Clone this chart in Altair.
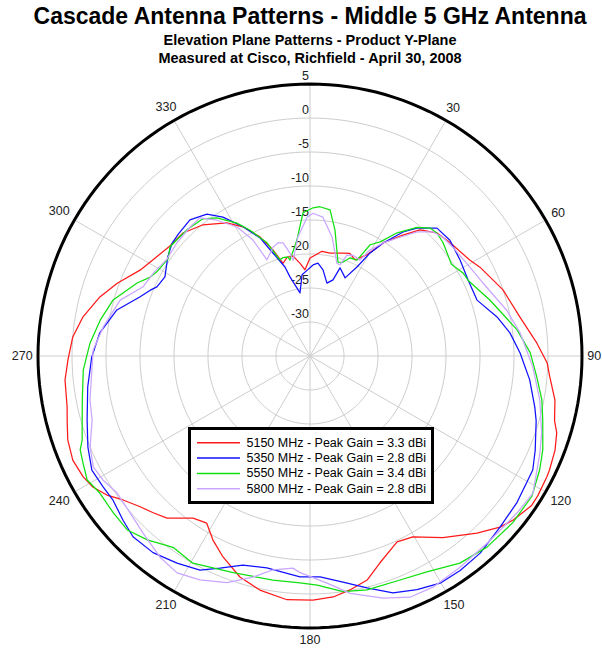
import altair as alt
import pandas as pd

# ---------------- data ----------------
series_names = [
    "5150 MHz - Peak Gain = 3.3 dBi",
    "5350 MHz - Peak Gain = 2.8 dBi",
    "5550 MHz - Peak Gain = 3.4 dBi",
    "5800 MHz - Peak Gain = 2.8 dBi",
]
series_colors = ["#ff1a1a", "#1010ff", "#10e010", "#c9a6ff"]

red_ang = [0, 6.5, 11, 17.8, 21.2, 25.1, 29.4, 32.9, 37.5, 41.1, 45.9, 51.1, 59, 62.4,
           71.1, 79.5, 86.7, 91.7, 95, 100.2, 104.8, 107.3, 111, 115.4, 117, 121.5, 124.1,
           128.9, 132, 136.7, 143.8, 150.4, 154.9, 161.3, 165.7, 170.3, 174.5, 179.3, 185.4,
           192.1, 197.6, 203.4, 207.8, 211.7, 215.8, 221.4, 225, 228.4, 232.4, 235.6, 238.9,
           242, 246.3, 250.9, 254.8, 258.1, 264.4, 269.1, 274.6, 279.7, 285.7, 290.7, 296.8,
           302, 308, 314.1, 320.8, 328, 332.6, 337.2, 340.8, 343.8, 346.9, 350.4, 353.9, 356.7]
red_db = [-20.6, -19.5, -19.6, -19.1, -18.8, -19.4, -17.9, -15.2, -12.6, -10.4, -9.0, -8.5, -7.6, -6.8,
          -5.0, -3.6, -1.6, -0.1, 0.4, 1.6, 2.2, 3.0, 3.6, 4.0, 4.1, 4.3, 4.3,
          3.4, 2.6, 0.8, -1.9, -4.4, -4.8, -2.9, -1.0, -0.1, 0.6, 0.9, 1.0,
          0.2, -0.9, -2.8, -4.4, -6.1, -5.6, -3.2, -2.4, -1.6, -0.3, 1.2, 2.3,
          2.8, 3.1, 2.7, 2.0, 1.5, 1.2, 0.6, 0.0, -1.1, -2.9, -4.7, -7.0,
          -8.0, -8.8, -9.0, -10.1, -11.9, -13.6, -16.0, -18.5, -20.8, -20.1, -20.1, -21.3, -22.3]

blue_ang = [1.9, 4.9, 8.6, 13.1, 16.8, 18.8, 24.2, 27.8, 30.2, 32.9, 36.9, 39.9, 44.8, 50.4,
            57.4, 64.3, 71.5, 78.2, 83.4, 89.2, 96.2, 102.8, 106, 112.7, 117.1, 125.4, 132,
            139.2, 145, 150.2, 155.4, 160.7, 166.2, 171.7, 177.4, 182.6, 191.5, 197.8, 203,
            207.2, 212.7, 218.6, 224.4, 228.7, 233.8, 237.7, 242.4, 247.7, 254, 262.1, 269.7,
            276.3, 283.4, 289.1, 292.4, 294.3, 298.6, 304.9, 309.3, 313, 318.6, 324, 327.9,
            332.6, 337, 340.2, 344.3, 345.8, 351, 354.4, 358]
blue_db = [-21.6, -21.3, -22.2, -24.0, -23.3, -21.3, -22.4, -20.2, -17.5, -15.2, -12.2, -10.5, -8.5, -8.3,
           -8.8, -9.2, -9.1, -6.9, -5.4, -4.1, -2.5, -1.1, -0.4, 0.9, 1.8, 2.3, 2.6,
           3.3, 3.5, 3.5, 2.8, 1.9, 0.1, -1.4, -2.5, -2.5, -3.2, -2.7, -1.1,
           0.4, 1.2, 2.0, 2.2, 1.6, 0.9, 1.0, 1.2, 0.3, -0.9, -2.0, -2.9,
           -3.9, -5.8, -8.5, -9.6, -10.3, -10.7, -9.5, -8.8, -8.6, -8.3, -9.2, -10.9,
           -13.6, -16.1, -18.9, -21.4, -23.0, -25.6, -23.0, -22.4]

green_ang = [1.2, 3.8, 7.8, 11.2, 16.6, 19.3, 22.2, 26.1, 28.4, 31.6, 35.3, 39.7, 43.2, 45.9,
             49.6, 57, 61.5, 64.6, 72.7, 82.8, 89.2, 95.3, 100.7, 105.4, 111.9, 116.4, 122.3,
             129.4, 137.2, 144.1, 151.6, 158.1, 166.3, 172, 178.2, 182.5, 189.4, 199.5, 209.5,
             215.6, 221.5, 226.4, 231.4, 236.9, 240.9, 244.8, 247.8, 249.8, 254.3, 259.1, 266.5,
             273.4, 279.7, 285.9, 292.9, 296.3, 298.8, 304.5, 307.9, 311, 316, 322, 326,
             331.2, 334.5, 339.2, 342.6, 344.6, 347.5, 348.2, 353.6, 357.2]
green_db = [-13.2, -13.0, -13.3, -16.1, -20.6, -20.4, -19.4, -19.3, -16.4, -15.3, -12.8, -10.4, -9.2, -9.0,
            -9.3, -10.2, -9.4, -9.2, -7.3, -4.3, -2.6, -1.5, -0.3, 0.5, 1.9, 2.7, 3.6,
            3.6, 3.3, 2.6, 1.1, 0.5, 0.4, 0.0, -1.3, -1.6, -1.6, -1.2, 0.0,
            -0.4, 1.1, 2.1, 2.0, 1.9, 2.5, 1.9, 1.5, 0.7, -0.2, -0.9, -1.6,
            -2.6, -3.7, -4.9, -7.4, -8.8, -9.3, -9.7, -8.9, -9.0, -9.1, -9.4, -10.5,
            -12.7, -14.5, -17.2, -20.2, -20.0, -20.1, -20.6, -17.8, -13.9]

violet_ang = [1.2, 5.3, 10.5, 16.2, 18.2, 20.1, 23.1, 27.5, 29.5, 32.9, 37.1, 40.8, 44.8, 48.2,
              52.7, 60.9, 67.1, 76.9, 83.8, 92.8, 100.8, 108.4, 112.9, 121.6, 127.2, 136.6, 144.6,
              152, 157.5, 163.2, 170.4, 175.7, 182.6, 184.6, 189.8, 194.5, 200.1, 206.2, 211.5,
              216.7, 223.3, 228.9, 234.6, 239.1, 242.9, 247.5, 253.6, 258.7, 271.6, 278, 286.4,
              292.4, 298.5, 304, 310.4, 317.1, 321.4, 325.6, 330.5, 333.8, 335.9, 341.3, 344.2,
              346.6, 349, 350, 354.2, 358.8]
violet_db = [-14.0, -14.5, -17.2, -20.8, -20.9, -19.2, -18.9, -19.1, -17.1, -15.2, -13.1, -10.9, -9.3, -8.8,
             -8.6, -8.1, -7.4, -5.3, -3.9, -2.2, -0.6, 0.9, 1.7, 3.5, 3.2, 2.9, 3.1,
             3.5, 3.4, 2.2, 0.4, -1.5, -3.1, -3.7, -3.1, -1.4, 0.5, 1.7, 2.4,
             1.9, 0.8, 0.1, -0.2, 0.5, 0.8, 0.0, -1.6, -2.0, -3.1, -4.3, -5.9,
             -8.4, -9.0, -9.6, -9.3, -9.1, -9.0, -10.8, -13.2, -16.0, -19.5, -18.1, -17.7,
             -17.9, -19.6, -20.7, -17.4, -14.6]

ring_values = [-30, -25, -20, -15, -10, -5, 0]
outer_value = 5
radial_labels = [5, 0, -5, -10, -15, -20, -25, -30]
spoke_angles = [0, 30, 60, 90, 120, 150, 180, 210, 240, 270, 300, 330]
angle_labels = [30, 60, 90, 120, 150, 180, 210, 240, 270, 300, 330]

# ---------------- tables ----------------
CENTER_DB = -35          # value at the centre of the polar plot
RMAX = outer_value - CENTER_DB   # 40
PX_PER_UNIT = 544 / (2 * RMAX)

rows = []
for name, angs, dbs in zip(series_names,
                           [red_ang, blue_ang, green_ang, violet_ang],
                           [red_db, blue_db, green_db, violet_db]):
    for k, (a, d) in enumerate(zip(angs, dbs)):
        rows.append({"series": name, "ang": a, "db": d, "idx": k})
    rows.append({"series": name, "ang": angs[0] + 360, "db": dbs[0], "idx": len(angs)})
curves = pd.DataFrame(rows)

circle_steps = list(range(0, 361, 2))
ring_df = pd.DataFrame([{"ring": v, "ang": a} for v in ring_values for a in circle_steps])
outer_df = pd.DataFrame([{"ring": outer_value, "ang": a} for a in circle_steps])
spoke_df = pd.DataFrame({"ang": spoke_angles})
alab_df = pd.DataFrame({"ang": angle_labels, "label": [str(a) for a in angle_labels]})
rlab_df = pd.DataFrame({"db": radial_labels, "label": [str(v) for v in radial_labels]})
leg_df = pd.DataFrame({"series": series_names, "i": list(range(len(series_names)))})

xs = alt.Scale(domain=[-RMAX, RMAX], nice=False, zero=False)
ys = alt.Scale(domain=[-RMAX, RMAX], nice=False, zero=False)
cscale = alt.Scale(domain=series_names, range=series_colors)
FONT = "Liberation Sans"


def X(f):
    return alt.X(f, type="quantitative", scale=xs, axis=None)


def Y(f):
    return alt.Y(f, type="quantitative", scale=ys, axis=None)


rad = "datum.ang * PI / 180"

rings = alt.Chart(ring_df).transform_calculate(
    x=f"(datum.ring - ({CENTER_DB})) * sin({rad})",
    y=f"(datum.ring - ({CENTER_DB})) * cos({rad})",
).mark_line(color="#cdcdcd", strokeWidth=1).encode(
    x=X("x"), y=Y("y"), detail="ring:N", order="ang:Q")

spokes = alt.Chart(spoke_df).transform_calculate(
    x0="0", y0="0",
    x1=f"{RMAX} * sin({rad})",
    y1=f"{RMAX} * cos({rad})",
).mark_rule(color="#cdcdcd", strokeWidth=1).encode(
    x=X("x0"), y=Y("y0"), x2="x1:Q", y2="y1:Q")

outer = alt.Chart(outer_df).transform_calculate(
    x=f"(datum.ring - ({CENTER_DB})) * sin({rad})",
    y=f"(datum.ring - ({CENTER_DB})) * cos({rad})",
).mark_line(color="black", strokeWidth=3).encode(
    x=X("x"), y=Y("y"), order="ang:Q")

# angle labels: box just touching a circle ~5px outside the frame
alabels = alt.Chart(alab_df).transform_calculate(
    rr=f"(277 + length(datum.label) * 3.6 * abs(sin({rad})) + 6.5 * abs(cos({rad}))) / {PX_PER_UNIT}",
).transform_calculate(
    x=f"datum.rr * sin({rad})",
    y=f"datum.rr * cos({rad})",
).mark_text(font=FONT, fontSize=12.5, color="#222222", align="center", baseline="middle").encode(
    x=X("x"), y=Y("y"), text="label:N")

rlabels = alt.Chart(rlab_df).transform_calculate(
    x="0",
    y=f"datum.db - ({CENTER_DB})",
).mark_text(font=FONT, fontSize=12.5, color="#222222", align="right", baseline="middle",
            dx=-1, dy=-8).encode(x=X("x"), y=Y("y"), text="label:N")

lines = alt.Chart(curves).transform_calculate(
    x=f"(datum.db - ({CENTER_DB})) * sin({rad})",
    y=f"(datum.db - ({CENTER_DB})) * cos({rad})",
).mark_line(strokeWidth=1.25, strokeJoin="round").encode(
    x=X("x"), y=Y("y"),
    color=alt.Color("series:N", scale=cscale, legend=None,
                    sort=series_names),
    order="idx:Q")

# hand-drawn legend box (pixel layout inside the plot area)
leg_frame = alt.Chart(pd.DataFrame({"k": [0]})).mark_rect(
    fill="white", stroke="black", strokeWidth=3).encode(
    x=alt.value(151.5), x2=alt.value(394.5), y=alt.value(344.5), y2=alt.value(418.5))

leg_lines = alt.Chart(leg_df).transform_calculate(
    py="358.8 + 15.3 * datum.i").mark_rule(strokeWidth=1.5).encode(
    x=alt.value(159), x2=alt.value(202),
    y=alt.Y("py:Q", scale=None, axis=None),
    color=alt.Color("series:N", scale=cscale, legend=None))

leg_text = alt.Chart(leg_df).transform_calculate(
    py="358.8 + 15.3 * datum.i").mark_text(
    font=FONT, fontSize=12.5, color="black", align="left", baseline="middle").encode(
    x=alt.value(208.5),
    y=alt.Y("py:Q", scale=None, axis=None),
    text="series:N")

chart = alt.layer(
    rings, spokes, outer, alabels, rlabels, lines, leg_frame, leg_lines, leg_text
).properties(
    width=544, height=544,
    background="white",
    autosize=alt.AutoSizeParams(type="none"),
    padding={"left": 38, "top": 84, "right": 20, "bottom": 23},
    title=alt.TitleParams(
        text="Cascade Antenna Patterns - Middle 5 GHz Antenna",
        subtitle=["Elevation Plane Patterns - Product Y-Plane",
                  "Measured at Cisco, Richfield - April 30, 2008"],
        font=FONT, fontSize=23, fontWeight="bold", color="black",
        subtitleFont=FONT, subtitleFontSize=14.5, subtitleFontWeight="bold",
        subtitleColor="black", subtitlePadding=5, subtitleLineHeight=18,
        anchor="middle", frame="group", offset=5,
    ),
).configure_view(strokeWidth=0, stroke="transparent")

chart.save("out.html", embed_options={"renderer": "svg", "actions": False})
